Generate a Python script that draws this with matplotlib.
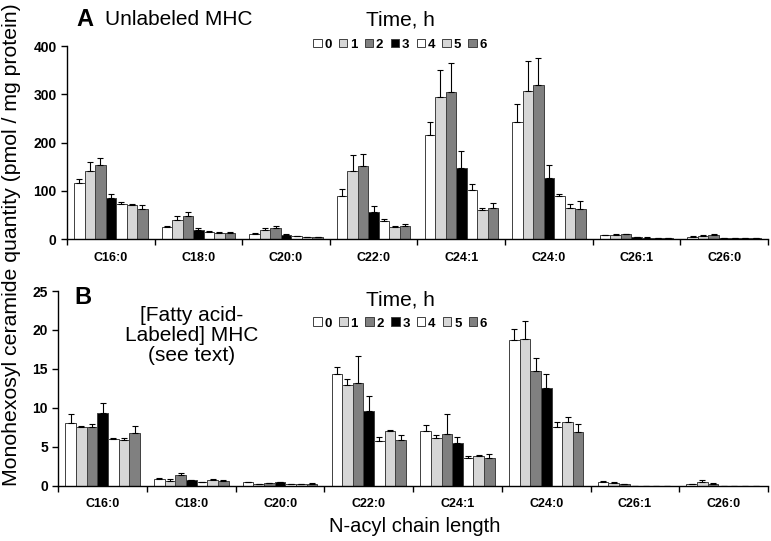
# Monohexosyl ceramide by N-acyl chain length, two panels
import numpy as np
import matplotlib
matplotlib.use("Agg")
import matplotlib.pyplot as plt

categories = ["C16:0", "C18:0", "C20:0", "C22:0", "C24:1", "C24:0", "C26:1", "C26:0"]
times = ["0", "1", "2", "3", "4", "5", "6"]

# panel A: values per category (rows) for each time (columns), plus top of error bar
a_vals = [[117, 140, 153, 86, 72, 70, 63],
          [24, 39, 48, 19, 14.5, 13, 13],
          [11, 18, 22, 9, 5.5, 4, 4],
          [90, 141, 152, 57, 38, 24, 28],
          [216, 295, 305, 147, 101, 61, 65],
          [242, 307, 319, 126, 89, 64, 63],
          [7.5, 9, 9.5, 3.5, 3, 2.5, 2],
          [5, 7, 8, 2.5, 2, 2, 2]]
a_tops = [[124, 159, 167, 93, 77, 72, 70],
          [26, 48, 56, 23, 16, 14.5, 14.5],
          [12.5, 22, 27, 11, 6.5, 5, 5],
          [103, 174, 177, 68, 42, 26, 32],
          [242, 351, 365, 182, 114, 64, 75],
          [279, 368, 376, 153, 94, 72, 78],
          [9, 10.5, 11, 4, 3.5, 3, 2.5],
          [6, 8.5, 10, 3, 2.5, 2.5, 2.5]]

# panel B
b_vals = [[8.1, 7.6, 7.5, 9.4, 6.0, 5.9, 6.8],
          [0.95, 0.7, 1.35, 0.75, 0.45, 0.8, 0.68],
          [0.45, 0.25, 0.35, 0.45, 0.25, 0.2, 0.3],
          [14.4, 12.9, 13.2, 9.6, 5.8, 7.05, 5.85],
          [7.1, 6.1, 6.7, 5.5, 3.6, 3.8, 3.6],
          [18.75, 18.9, 14.7, 12.6, 7.6, 8.25, 6.9],
          [0.45, 0.4, 0.2, 0.05, 0.05, 0.05, 0.05],
          [0.2, 0.45, 0.25, 0.05, 0.05, 0.05, 0.05]]
b_tops = [[9.25, 7.7, 7.9, 10.6, 6.2, 6.1, 7.65],
          [1.05, 0.85, 1.65, 0.8, 0.5, 0.85, 0.72],
          [0.5, 0.3, 0.4, 0.55, 0.3, 0.25, 0.35],
          [15.2, 13.7, 16.7, 11.5, 6.3, 7.2, 6.5],
          [7.8, 6.5, 9.2, 6.3, 3.9, 4.0, 4.05],
          [20.1, 21.2, 16.4, 14.4, 8.2, 8.85, 7.9],
          [0.7, 0.5, 0.3, 0.05, 0.05, 0.05, 0.05],
          [0.3, 0.75, 0.35, 0.05, 0.05, 0.05, 0.05]]

colors = ["white", "#d6d6d6", "#808080", "black", "white", "#d6d6d6", "#808080"]

plt.rcParams["font.family"] = ["Liberation Sans", "DejaVu Sans"]

fig = plt.figure(figsize=(7.71, 5.41), dpi=100)
axA = fig.add_axes([0.0869, 0.5582, 0.9092, 0.3567])
axB = fig.add_axes([0.0756, 0.1017, 0.9205, 0.3604])


def draw_panel(ax, vals, tops, ymax, ystep):
    vals = np.array(vals, dtype=float)
    tops = np.array(tops, dtype=float)
    errs = tops - vals
    x = np.arange(len(categories))
    w = 0.84 / len(times)
    handles = []
    for j, t in enumerate(times):
        pos = x + (j - 3) * w
        b = ax.bar(pos, vals[:, j], width=w, color=colors[j],
                   edgecolor="#404040", linewidth=0.7, label=t, zorder=2)
        ax.errorbar(pos, vals[:, j],
                    yerr=[np.zeros(len(categories)), errs[:, j]],
                    fmt="none", ecolor="black", elinewidth=0.8,
                    capsize=2, capthick=0.8, zorder=3)
        handles.append(b)
    ax.set_xlim(-0.5, len(categories) - 0.5)
    ax.set_ylim(0, ymax)
    ax.set_yticks(np.arange(0, ymax + ystep / 2, ystep))
    ax.set_xticks(x)
    ax.set_xticklabels(categories, fontsize=9, fontweight="bold")
    ax.set_xticks(np.arange(-0.5, len(categories)), minor=True)
    ax.tick_params(axis="x", which="major", length=0, pad=9)
    ax.tick_params(axis="x", which="minor", length=4, width=1, direction="out")
    ax.tick_params(axis="y", length=4, width=1, labelsize=10)
    for lbl in ax.get_yticklabels():
        lbl.set_fontweight("bold")
    ax.spines["top"].set_visible(False)
    ax.spines["right"].set_visible(False)
    ax.spines["left"].set_linewidth(1)
    ax.spines["bottom"].set_linewidth(1)
    return handles


hA = draw_panel(axA, a_vals, a_tops, 400, 100)
hB = draw_panel(axB, b_vals, b_tops, 25, 5)

# "Time, h" title and legend row for each panel
for ax, h, cx, ty, ly in [(axA, hA, 0.475, 1.135, 1.073),
                          (axB, hB, 0.482, 0.955, 0.898)]:
    ax.text(cx, ty, "Time, h", transform=ax.transAxes, fontsize=15,
            ha="center", va="center")
    ax.legend(h, times, loc="upper center", bbox_to_anchor=(cx, ly),
              ncol=7, frameon=False, handlelength=0.65, handleheight=0.65,
              handletextpad=0.2, columnspacing=0.55, borderpad=0,
              prop={"size": 9.5, "weight": "bold"})

axA.text(0.014, 1.135, "A", transform=axA.transAxes, fontsize=17,
         fontweight="bold", va="center")
axA.text(0.054, 1.135, "Unlabeled MHC", transform=axA.transAxes, fontsize=15,
         va="center")
axB.text(0.022, 0.965, "B", transform=axB.transAxes, fontsize=17,
         fontweight="bold", va="center")
axB.text(0.188, 0.772, "[Fatty acid-\nLabeled] MHC\n(see text)",
         transform=axB.transAxes, fontsize=15, ha="center", va="center",
         linespacing=1.05)

fig.text(0.0145, 0.548, "Monohexosyl ceramide quantity (pmol / mg protein)",
         rotation=90, fontsize=15.3, ha="center", va="center")
fig.text(0.538, 0.026, "N-acyl chain length", fontsize=14.5,
         ha="center", va="center")

plt.savefig("out.png", dpi=100)
